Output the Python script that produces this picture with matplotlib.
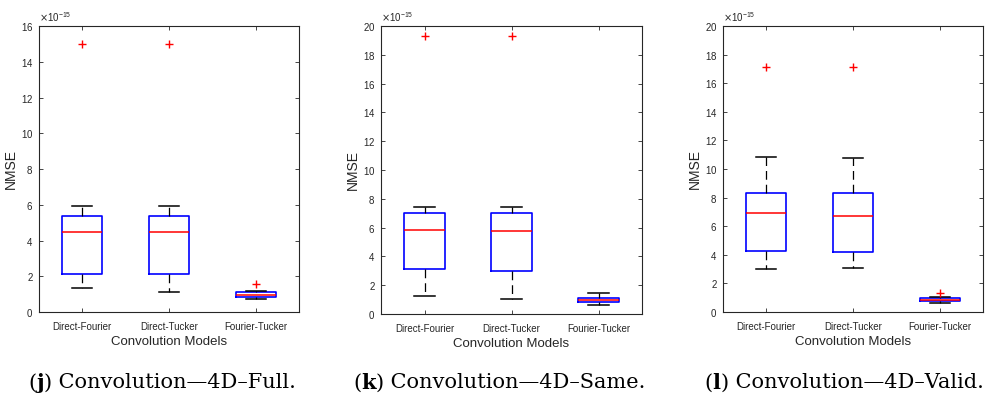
import matplotlib
matplotlib.use("Agg")
import matplotlib.pyplot as plt
from matplotlib.ticker import ScalarFormatter

# categories on the x axis
models = ["Direct-Fourier", "Direct-Tucker", "Fourier-Tucker"]

# box statistics per panel, in NMSE: [whislo, q1, med, q3, whishi]
full_stats = [[1.35e-15, 2.15e-15, 4.50e-15, 5.38e-15, 5.93e-15],
              [1.10e-15, 2.15e-15, 4.50e-15, 5.35e-15, 5.95e-15],
              [0.72e-15, 0.85e-15, 0.97e-15, 1.12e-15, 1.20e-15]]
full_fliers = [[15.0e-15], [15.0e-15], [1.55e-15]]

same_stats = [[1.25e-15, 3.10e-15, 5.80e-15, 7.00e-15, 7.45e-15],
              [1.05e-15, 3.00e-15, 5.75e-15, 7.00e-15, 7.45e-15],
              [0.60e-15, 0.85e-15, 1.00e-15, 1.12e-15, 1.45e-15]]
same_fliers = [[19.3e-15], [19.3e-15], []]

valid_stats = [[3.00e-15, 4.25e-15, 6.90e-15, 8.30e-15, 10.85e-15],
               [3.05e-15, 4.20e-15, 6.70e-15, 8.30e-15, 10.80e-15],
               [0.60e-15, 0.75e-15, 0.85e-15, 0.98e-15, 1.05e-15]]
valid_fliers = [[17.1e-15], [17.15e-15], [1.35e-15]]

panels = [
    (full_stats, full_fliers, 16e-15, "j", " Convolution\u20144D\u2013Full."),
    (same_stats, same_fliers, 20e-15, "k", " Convolution\u20144D\u2013Same."),
    (valid_stats, valid_fliers, 20e-15, "l", " Convolution\u20144D\u2013Valid."),
]

sans = ["Liberation Sans Narrow", "Liberation Sans", "DejaVu Sans"]
serif = "DejaVu Serif"
axcol = "#262626"

W, H = 991, 394
ax_px = [(39, 299, 26, 312), (381, 642, 26, 314), (723, 983, 26, 312)]
cap_x = [162, 499, 844]
cap_y = 1 - 383 / H

fig = plt.figure(figsize=(W / 100, H / 100), dpi=100)
renderer = fig.canvas.get_renderer()

for (stats, fliers, ymax, tag, caption), (l, r, t, b), cx in zip(panels, ax_px, cap_x):
    ax = fig.add_axes([l / W, 1 - b / H, (r - l) / W, (b - t) / H])
    bxp = []
    for s, f in zip(stats, fliers):
        bxp.append(dict(whislo=s[0], q1=s[1], med=s[2], q3=s[3], whishi=s[4], fliers=f))
    ax.bxp(bxp, positions=[1, 2, 3], widths=0.46,
           boxprops=dict(color="blue", linewidth=1.2),
           medianprops=dict(color="red", linewidth=1.1),
           whiskerprops=dict(color="black", linewidth=0.9, linestyle=(0, (7, 4))),
           capprops=dict(color="black", linewidth=1.1),
           flierprops=dict(marker="+", markeredgecolor="red", markersize=6, linestyle="none"),
           capwidths=0.23)
    ax.set_xlim(0.5, 3.5)
    ax.set_ylim(0, ymax)
    ax.set_xticks([1, 2, 3])
    ax.set_xticklabels(models, family=sans, fontsize=7, color=axcol)
    fmt = ScalarFormatter(useMathText=True)
    fmt.set_powerlimits((-15, -15))
    ax.yaxis.set_major_formatter(fmt)
    ax.yaxis.get_offset_text().set(family=sans, fontsize=7, color=axcol)
    ax.set_yticks([v * 1e-15 for v in range(0, int(round(ymax * 1e15)) + 1, 2)])
    for lab in ax.get_yticklabels():
        lab.set(family=sans, fontsize=7, color=axcol)
    ax.tick_params(direction="in", top=True, right=True, length=3, width=0.6, colors=axcol,
                   labelcolor=axcol, pad=4)
    ax.tick_params(axis="x", pad=7)
    for sp in ax.spines.values():
        sp.set_color(axcol)
        sp.set_linewidth(0.8)
    ax.set_ylabel("NMSE", family=sans, fontsize=10, color=axcol)
    ax.yaxis.set_label_coords(-21 / (r - l), 0.5)
    ax.set_xlabel("Convolution Models", family=sans, fontsize=9.5, color=axcol, labelpad=3)

    # caption: "(" + bold letter + ")" + rest, centred under the panel
    pieces = [("(", "normal"), (tag, "bold"), (")", "normal"), (caption, "normal")]
    texts = [fig.text(0, cap_y, s, family=serif, fontsize=15, fontweight=w,
                      ha="left", va="center", color="black") for s, w in pieces]
    widths = [tx.get_window_extent(renderer).width for tx in texts]
    x = cx - sum(widths) / 2
    for tx, wd in zip(texts, widths):
        tx.set_x(x / W)
        x += wd

fig.savefig("out.png", dpi=100)
